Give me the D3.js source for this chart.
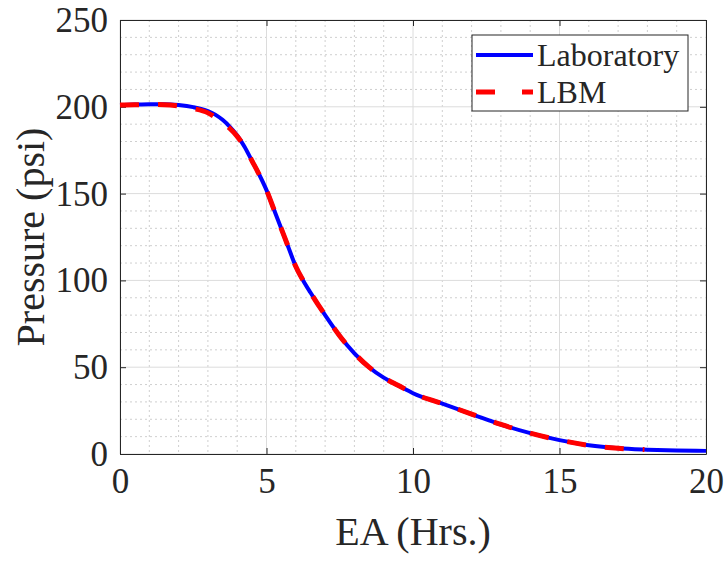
<!DOCTYPE html>
<html>
<head>
<meta charset="utf-8">
<script src="https://cdn.jsdelivr.net/npm/d3@7"></script>
<style>
  body { margin: 0; background: #fff; }
  svg { display: block; }
  text { font-family: "Liberation Serif", "Times New Roman", serif; fill: #262626; }
</style>
</head>
<body>
<svg id="mainsvg" width="725" height="561"></svg>
<script>
// data
const labHours = [0, 0.5, 1, 1.5, 2, 2.5, 3, 3.25, 3.5, 3.75, 4, 4.25, 4.5, 4.75, 5, 5.25, 5.5, 5.75, 6, 6.25, 6.5, 7, 7.5, 8, 8.5, 9, 9.5, 10, 11, 12, 13, 14, 15, 16, 17, 18, 19, 20];
const labPressure = [201, 201.3, 201.5, 201.5, 201, 199.8, 197.5, 195.5, 192.5, 188.5, 183.5, 177, 169, 161, 152, 141, 130, 119, 108, 100, 93, 80, 68, 58, 50, 44, 39.5, 35, 29, 23, 17, 12, 8, 5, 3.3, 2.5, 2, 1.8];
const lbmHours = [0, 0.5, 1, 1.5, 2, 2.5, 3, 3.25, 3.5, 3.75, 4, 4.25, 4.5, 4.75, 5, 5.25, 5.5, 5.75, 6, 6.25, 6.5, 7, 7.5, 8, 8.5, 9, 9.5, 10, 11, 12, 13, 14, 15, 16, 17, 17.9];
const lbmPressure = [201, 201.2, 201.3, 201.2, 200.5, 199, 196.5, 194, 191, 187.5, 183, 177, 169, 161, 152, 141, 130, 119, 108, 100, 93, 80, 68, 58, 50, 44, 39.5, 35, 29, 23, 17, 12, 8, 5, 3.3, 2.6];
const xTicks = [0, 5, 10, 15, 20];
const yTicks = [0, 50, 100, 150, 200, 250];
const seriesNames = ['Laboratory', 'LBM'];

const svg = d3.select('#mainsvg');
const margin = {top: 20, right: 19, bottom: 107, left: 120};
const width = +svg.attr('width');
const height = +svg.attr('height');
const innerWidth = width - margin.left - margin.right;
const innerHeight = height - margin.top - margin.bottom;

const chartGroup = svg.append('g').attr('transform', `translate(${margin.left}, ${margin.top})`);

const xScale = d3.scaleLinear().domain([0, 20]).range([0, innerWidth]);
const yScale = d3.scaleLinear().domain([0, 250]).range([innerHeight, 0]);

// minor grid (dotted)
const xMinor = d3.range(0, 21, 1).filter(d => d % 5 !== 0);
const yMinor = d3.range(0, 251, 10).filter(d => d % 50 !== 0);
chartGroup.selectAll('.xminor').data(xMinor).join('line')
  .attr('x1', d => xScale(d)).attr('x2', d => xScale(d))
  .attr('y1', 0).attr('y2', innerHeight)
  .attr('stroke', '#cfcfcf').attr('stroke-dasharray', '2,3');
chartGroup.selectAll('.yminor').data(yMinor).join('line')
  .attr('y1', d => yScale(d)).attr('y2', d => yScale(d))
  .attr('x1', 0).attr('x2', innerWidth)
  .attr('stroke', '#cfcfcf').attr('stroke-dasharray', '2,3');

// major grid
chartGroup.selectAll('.xmajor').data(xTicks).join('line')
  .attr('x1', d => xScale(d)).attr('x2', d => xScale(d))
  .attr('y1', 0).attr('y2', innerHeight)
  .attr('stroke', '#dcdcdc');
chartGroup.selectAll('.ymajor').data(yTicks).join('line')
  .attr('y1', d => yScale(d)).attr('y2', d => yScale(d))
  .attr('x1', 0).attr('x2', innerWidth)
  .attr('stroke', '#dcdcdc');

// axes (ticks point inward, box on)
const xAxis = chartGroup.append('g')
  .attr('transform', `translate(0, ${innerHeight})`)
  .call(d3.axisBottom(xScale).tickValues(xTicks).tickSizeInner(-6).tickSizeOuter(0).tickPadding(14));
const yAxis = chartGroup.append('g')
  .call(d3.axisLeft(yScale).tickValues(yTicks).tickSizeInner(-6).tickSizeOuter(0).tickPadding(12));
const topAxis = chartGroup.append('g')
  .call(d3.axisTop(xScale).tickValues(xTicks).tickSizeInner(-6).tickSizeOuter(0));
const rightAxis = chartGroup.append('g')
  .attr('transform', `translate(${innerWidth}, 0)`)
  .call(d3.axisRight(yScale).tickValues(yTicks).tickSizeInner(-6).tickSizeOuter(0));
topAxis.selectAll('text').remove();
rightAxis.selectAll('text').remove();
[xAxis, yAxis, topAxis, rightAxis].forEach(g => g.attr('font-size', 35).attr('font-family', null));
chartGroup.selectAll('.domain, .tick line').attr('stroke', '#262626');
xAxis.selectAll('text').attr('fill', '#262626').attr('dy', '0.72em');
yAxis.selectAll('text').attr('fill', '#262626').attr('dy', '0.33em');

// lines
const line = d3.line().x(d => xScale(d[0])).y(d => yScale(d[1])).curve(d3.curveMonotoneX);
const labData = labHours.map((h, i) => [h, labPressure[i]]);
const lbmData = lbmHours.map((h, i) => [h, lbmPressure[i]]);

chartGroup.append('path')
  .attr('d', line(labData))
  .attr('fill', 'none')
  .attr('stroke', '#0000ff')
  .attr('stroke-width', 4);
chartGroup.append('path')
  .attr('d', line(lbmData))
  .attr('fill', 'none')
  .attr('stroke', '#ff0000')
  .attr('stroke-width', 5)
  .attr('stroke-dasharray', '19,19');

// axis labels
svg.append('text')
  .attr('x', margin.left + innerWidth / 2)
  .attr('y', 545)
  .attr('text-anchor', 'middle')
  .attr('font-size', 40)
  .text('EA (Hrs.)');
svg.append('text')
  .attr('transform', `translate(44, ${margin.top + innerHeight / 2}) rotate(-90)`)
  .attr('text-anchor', 'middle')
  .attr('font-size', 40)
  .text('Pressure (psi)');

// legend
const legend = svg.append('g').attr('transform', 'translate(472, 35)');
legend.append('rect')
  .attr('width', 216).attr('height', 76)
  .attr('fill', '#fff').attr('stroke', '#262626').attr('stroke-width', 1);
legend.append('line')
  .attr('x1', 4).attr('x2', 61).attr('y1', 20).attr('y2', 20)
  .attr('stroke', '#0000ff').attr('stroke-width', 4);
legend.append('line')
  .attr('x1', 4).attr('x2', 61).attr('y1', 57).attr('y2', 57)
  .attr('stroke', '#ff0000').attr('stroke-width', 5).attr('stroke-dasharray', '19,27');
legend.selectAll('.legtext').data(seriesNames).join('text')
  .attr('x', 65)
  .attr('y', (d, i) => 31 + i * 37)
  .attr('font-size', 32)
  .text(d => d);
</script>
</body>
</html>
